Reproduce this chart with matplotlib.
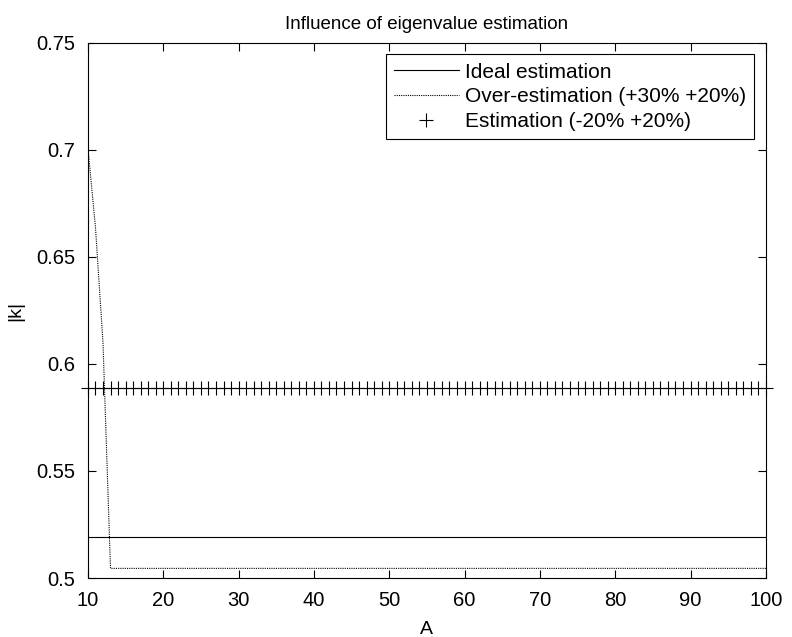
import numpy as np
import matplotlib.pyplot as plt
from matplotlib.ticker import FuncFormatter

plt.rcParams['font.family'] = ['Liberation Sans', 'DejaVu Sans']

# data
A = list(range(10, 101))
ideal = [0.519] * len(A)
over = [0.701, 0.664, 0.61] + [0.5045] * (len(A) - 3)
est = [0.589] * len(A)

fig = plt.figure(figsize=(7.92, 6.37), dpi=100)
ax = fig.add_axes([0.111, 0.0926, 0.856, 0.84])

ax.plot(A, ideal, color='black', linewidth=0.8, label='Ideal estimation')
ax.plot(A, over, color='black', linewidth=0.8, linestyle=(0, (1, 1)),
        label='Over-estimation (+30% +20%)')
ax.plot(A, est, linestyle='none', marker='+', markersize=10, markeredgewidth=0.8,
        color='black', clip_on=False, label='Estimation (-20% +20%)')

ax.set_xlim(10, 100)
ax.set_ylim(0.5, 0.75)
ax.set_xticks(np.arange(10, 101, 10))
ax.set_yticks([0.5, 0.55, 0.6, 0.65, 0.7, 0.75])
ax.yaxis.set_major_formatter(FuncFormatter(lambda v, p: '%g' % round(v, 2)))
ax.tick_params(direction='in', top=True, right=True, length=6, width=0.8,
               labelsize=14.5)
ax.tick_params(axis='x', pad=9)
ax.tick_params(axis='y', pad=9)
for s in ax.spines.values():
    s.set_linewidth(0.8)

ax.set_title('Influence of eigenvalue estimation', fontsize=13.5, pad=10)
ax.set_xlabel('A', fontsize=14, labelpad=8)
ax.set_ylabel('|k|', fontsize=14, labelpad=9)

leg = ax.legend(loc='upper right', fontsize=15, fancybox=False, framealpha=1,
                edgecolor='black', handlelength=3.1, borderaxespad=0.55,
                borderpad=0.4, labelspacing=0.27, handletextpad=0.3)
leg.get_frame().set_linewidth(0.8)

fig.savefig('out.png', dpi=100)
